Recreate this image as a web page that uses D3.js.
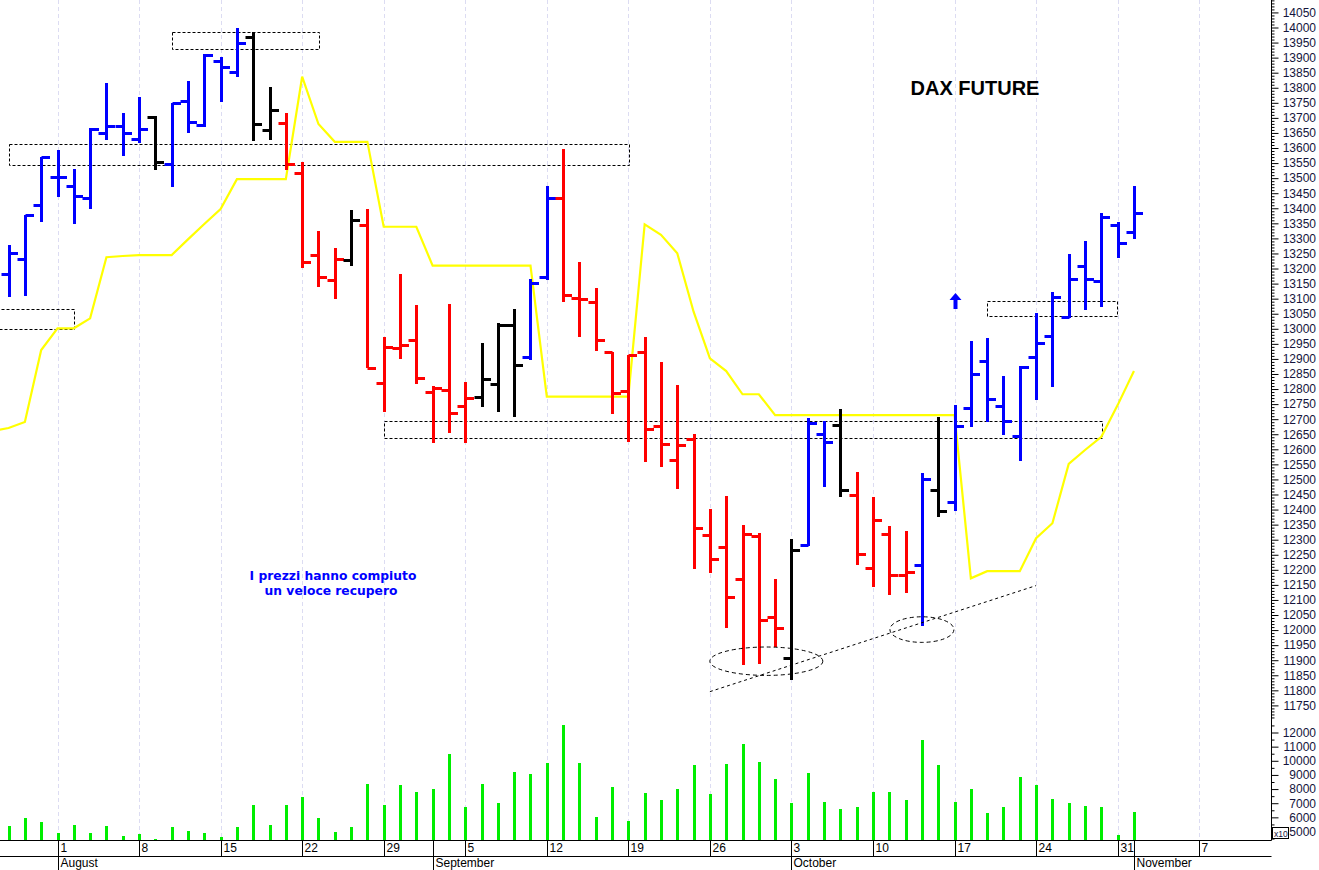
<!DOCTYPE html>
<html><head><meta charset="utf-8">
<script src="https://cdn.jsdelivr.net/npm/d3@7"></script>
<style>
html,body{margin:0;padding:0;background:#fff;}
svg{display:block;}
</style></head><body>
<svg id="chart" width="1319" height="870"></svg>
<script>
// ---------------- DATA ----------------
const dates = ["2022-07-26","2022-07-27","2022-07-28","2022-07-29",
"2022-08-01","2022-08-02","2022-08-03","2022-08-04","2022-08-05",
"2022-08-08","2022-08-09","2022-08-10","2022-08-11","2022-08-12",
"2022-08-15","2022-08-16","2022-08-17","2022-08-18","2022-08-19",
"2022-08-22","2022-08-23","2022-08-24","2022-08-25","2022-08-26",
"2022-08-29","2022-08-30","2022-08-31","2022-09-01","2022-09-02",
"2022-09-05","2022-09-06","2022-09-07","2022-09-08","2022-09-09",
"2022-09-12","2022-09-13","2022-09-14","2022-09-15","2022-09-16",
"2022-09-19","2022-09-20","2022-09-21","2022-09-22","2022-09-23",
"2022-09-26","2022-09-27","2022-09-28","2022-09-29","2022-09-30",
"2022-10-03","2022-10-04","2022-10-05","2022-10-06","2022-10-07",
"2022-10-10","2022-10-11","2022-10-12","2022-10-13","2022-10-14",
"2022-10-17","2022-10-18","2022-10-19","2022-10-20","2022-10-21",
"2022-10-24","2022-10-25","2022-10-26","2022-10-27","2022-10-28",
"2022-10-31","2022-11-01"];

const openP = [null,13179,13229,13409,
13501,13472,13431,13647,13671, 13627,13702,13545,13755,13675,
13888,13852,13966,13658,13682, 13516,13243,13160,13227,13343,
12817,12934,12961,12788,12795, 12742,12773,12815,13011,12906,
13171,13431,13100,13088,12920, 12792,12922,12676,12563,12632,
12314,12273,12168,12311,12043, 11905,12281,12649,12679,12446,
12203,12317,12181,12214,12463, 12424,12734,12891,12742,12644,
12904,12975,13036,13207,13157, 13343,13321];
const highP = [null,13276,13376,13570,
13592,13528,13666,13815,13714, 13767,13705,13749,13822,13909,
13899,13996,13984,13802,13714, 13553,13323,13265,13393,13396,
12970,13180,13077,12808,13081, 12821,12952,13017,13064,13163,
13472,13595,13221,13135,12922, 12911,12970,12889,12812,12648,
12399,12444,12347,12322,12167, 12300,12701,12693,12731,12524,
12439,12344,12328,12521,12707, 12745,12959,12969,12843,12875,
13050,13121,13246,13290,13384, 13354,13472];
const lowP = [null,13105,13107,13354,
13435,13346,13396,13625,13572, 13614,13525,13470,13647,13669,
13750,13833,13623,13625,13525, 13199,13138,13096,13208,12867,
12723,12897,12815,12618,12653, 12618,12740,12723,12707,12895,
13160,13088,12970,12926,12716, 12624,12555,12539,12466,12200,
12187,12004,11882,11886,11943, 11833,12278,12472,12439,12214,
12140,12115,12120,12013,12375, 12394,12673,12690,12646,12560,
12762,12804,13033,13061,13072, 13232,13296];
const closeP = [null,13249,13376,13570,
13501,13439,13661,13672,13647, 13661,13551,13749,13686,13907,
13868,13946,13678,13725,13545, 13221,13169,13230,13359,12867,
12939,12945,12834,12801,12718, 12768,12831,13011,12878,13149,
13431,13110,13096,12961,12784, 12911,12665,12615,12613,12336,
12233,12109,12317,12032,12006, 12264,12685,12622,12463,12251,
12364,12181,12192,12500,12394, 12676,12848,12764,12692,12873,
12950,13105,13164,13164,13368, 13284,13382];
// bar colour signal: u = up (blue), d = down (red), n = neutral (black)
const signal = [null,"u","u","u",
"u","u","u","u","u", "u","n","u","u","u",
"u","u","n","n","d", "d","d","d","n","d",
"d","d","d","d","d", "d","n","n","n","u",
"u","d","d","d","d", "d","d","d","d","d",
"d","d","d","d","d", "n","u","u","n","d",
"d","d","d","u","n", "u","u","u","u","u",
"u","u","u","u","u", "u","u"];
// volume (x10)
const volume = [null,5354,5898,5615,
4880,5425,4836,5354,4625, 4767,4435,5262,5024,4836,
4600,5283,6839,5446,6817, 7383,5898,4953,5283,8302,
6839,8253,7758,7970,10466, 6676,8302,7001,9193,9052,
9830,12495,9786,5969,8090, 5707,7665,7192,7948,9645,
7616,9716,11172,9857,8655, 7001,9122,7072,6577,6676,
7758,7737,7213,11434,9645, 7050,7948,6252,6721,8797,
8231,7262,6959,6746,6676, 4696,6322];
// yellow indicator line
const indicator = [12659,12669,12689,12928,
13000,13000,13033,13236,13240, 13243,13243,13243,13295,13346,
13396,13495,13495,13495,13495, 13835,13678,13619,13619,13619,
13337,13337,13337,13208,13208, 13208,13208,13208,13208,13208,
12773,12773,12773,12773,12773, 12773,13345,13310,13249,13055,
12900,12858,12781,12781,12712, 12712,12712,12712,12712,12712,
12712,12712,12712,12712,12712, 12712,12170,12194,12194,12194,
12303,12353,12550,12596,12640, 12745,12858];

const weekTickDates = ["2022-08-01","2022-08-08","2022-08-15","2022-08-22","2022-08-29",
"2022-09-05","2022-09-12","2022-09-19","2022-09-26","2022-10-03","2022-10-10",
"2022-10-17","2022-10-24","2022-10-31","2022-11-07"];
const monthStartDates = ["2022-08-01","2022-09-01","2022-10-03","2022-11-01"];
const monthLabels = ["August","September","October","November"];

const priceLabels = d3.range(11750, 14051, 50);
const volumeLabels = d3.range(5000, 12001, 1000);

// annotation zones (dates / prices)
const zoneFrom = ["2022-08-10","2022-07-27","2022-07-25","2022-08-29","2022-10-19"];
const zoneTo   = ["2022-08-23","2022-09-19","2022-08-02","2022-10-28","2022-10-31"];
const zoneTop  = [13982,13611,13063,12693,13091];
const zoneBot  = [13926,13542,12997,12638,13041];

// ---------------- HELPERS ----------------
const t0 = new Date(dates[0] + "T00:00:00Z");
function tradingIndex(ds){
  const t = new Date(ds + "T00:00:00Z");
  let n = 0, cur = new Date(t0);
  const sign = t >= t0 ? 1 : -1;
  while (cur.getTime() !== t.getTime()){
    cur.setUTCDate(cur.getUTCDate() + sign);
    const wd = cur.getUTCDay();
    if (wd !== 0 && wd !== 6) n += sign;
  }
  return n;
}

const plotRight = 1271, volBase = 840;
const svg = d3.select("#chart");

const x = d3.scaleLinear().domain([4, 74]).range([57.5, 57.5 + 70*16.31]);
const y = d3.scaleLinear().domain([11750, 14000]).range([704.9, 27]);
const yv = d3.scaleLinear().domain([5000, 12000]).range([831, 732]);

const px = v => Math.round(v) + 0.5;

svg.append("defs").append("clipPath").attr("id","plotclip")
  .append("rect").attr("x",0).attr("y",0).attr("width",plotRight).attr("height",volBase);

const plot = svg.append("g").attr("clip-path","url(#plotclip)");

// vertical gridlines
const weekIdx = weekTickDates.map(tradingIndex);
plot.append("g").selectAll("line").data(weekIdx).join("line")
  .attr("x1", d => px(x(d))).attr("x2", d => px(x(d)))
  .attr("y1", 0).attr("y2", volBase)
  .attr("stroke", "#dcdcf2").attr("stroke-width", 1).attr("stroke-dasharray", "4,3");

// zones
plot.append("g").selectAll("rect").data(zoneTop).join("rect")
  .attr("x", (d,i) => px(x(tradingIndex(zoneFrom[i])) ) )
  .attr("y", d => px(y(d)))
  .attr("width", (d,i) => Math.round(x(tradingIndex(zoneTo[i])) - x(tradingIndex(zoneFrom[i]))))
  .attr("height", (d,i) => Math.round(y(zoneBot[i]) - y(d)))
  .attr("fill", "none").attr("stroke", "#000").attr("stroke-width", 1)
  .attr("stroke-dasharray", "3,2");

// yellow indicator
const lineGen = d3.line().x((d,i) => x(i)).y(d => y(d));
plot.append("path").datum(indicator).attr("d", lineGen)
  .attr("fill","none").attr("stroke","#ffff00").attr("stroke-width",2.2);

// bars
const colorOf = {u:"#0000ff", d:"#ff0000", n:"#000000"};
const barsG = plot.append("g");
dates.forEach((ds, i) => {
  if (highP[i] == null) return;
  const cx = px(x(i)), c = colorOf[signal[i]];
  const g = barsG.append("g").attr("stroke", c).attr("stroke-width", 3);
  g.append("line").attr("x1",cx).attr("x2",cx).attr("y1",Math.round(y(highP[i]))).attr("y2",Math.round(y(lowP[i])));
  g.append("line").attr("x1",cx-8).attr("x2",cx).attr("y1",px(y(openP[i]))).attr("y2",px(y(openP[i])));
  g.append("line").attr("x1",cx).attr("x2",cx+8.5).attr("y1",px(y(closeP[i]))).attr("y2",px(y(closeP[i])));
});

// volume
plot.append("g").selectAll("line").data(volume.map((v,i)=>[i,v]).filter(d=>d[1]!=null)).join("line")
  .attr("x1", d => px(x(d[0]))).attr("x2", d => px(x(d[0])))
  .attr("y1", d => Math.round(yv(d[1]))).attr("y2", volBase)
  .attr("stroke", "#00ee00").attr("stroke-width", 3);

// trendline, ellipses
const iTrendA = tradingIndex("2022-09-26"), iTrendB = tradingIndex("2022-10-24");
plot.append("line")
  .attr("x1", x(iTrendA)).attr("y1", y(11794)).attr("x2", x(iTrendB)).attr("y2", y(12146))
  .attr("stroke","#000").attr("stroke-width",1).attr("stroke-dasharray","3,3");
const ellC = [["2022-09-29", 11895, 56.5, 14.2], ["2022-10-13", 12000, 32, 12.8]];
plot.append("g").selectAll("ellipse").data(ellC).join("ellipse")
  .attr("cx", d => x(tradingIndex(d[0])) + 7.5 * (d[2] > 40 ? 1 : 0))
  .attr("cy", d => y(d[1]))
  .attr("rx", d => d[2]).attr("ry", d => d[3])
  .attr("fill","none").attr("stroke","#000").attr("stroke-width",1).attr("stroke-dasharray","4,3");

// blue arrow
const ax = px(x(tradingIndex("2022-10-17"))), ayTop = y(13117), ayBot = y(13064);
plot.append("path")
  .attr("d", `M${ax},${ayTop} L${ax+6},${ayTop+7} L${ax+2},${ayTop+7} L${ax+2},${ayBot} L${ax-2},${ayBot} L${ax-2},${ayTop+7} L${ax-6},${ayTop+7} Z`)
  .attr("fill","#0000ff");

// texts
svg.append("text").attr("x", 975).attr("y", 95).attr("text-anchor","middle")
  .attr("font-family","Liberation Sans, Arial, sans-serif").attr("font-weight","bold")
  .attr("font-size", 20).attr("fill","#000").text("DAX FUTURE");
const note = svg.append("text").attr("text-anchor","middle")
  .attr("font-family","DejaVu Sans, Verdana, sans-serif").attr("font-weight","bold")
  .attr("font-size", 12.3).attr("fill","#0000ff");
note.append("tspan").attr("x",333).attr("y",580).text("I prezzi hanno compiuto");
note.append("tspan").attr("x",331).attr("y",595).text("un veloce recupero");

// ---------------- AXES ----------------
const axisFont = "Liberation Sans, Arial, sans-serif";
const labelRight = 1316;
svg.append("line").attr("x1",plotRight+0.5).attr("x2",plotRight+0.5).attr("y1",0).attr("y2",volBase+0.5)
  .attr("stroke","#000");
const minorP = d3.range(11710, 14100, 10).filter(v => !priceLabels.includes(v));
const gMinor = svg.append("g").attr("transform",`translate(${plotRight+0.5},0.5)`)
  .call(d3.axisRight(y).tickValues(minorP).tickSize(3).tickFormat(""));
const gMajor = svg.append("g").attr("transform",`translate(${plotRight+0.5},0.5)`)
  .call(d3.axisRight(y).tickValues(priceLabels).tickSize(7).tickPadding(5).tickFormat(d3.format("d")));
const volMinor = d3.range(4500, 13001, 500).filter(v => !volumeLabels.includes(v) && yv(v) >= 720);
const gvMinor = svg.append("g").attr("transform",`translate(${plotRight+0.5},0.5)`)
  .call(d3.axisRight(yv).tickValues(volMinor).tickSize(3).tickFormat(""));
const gvMajor = svg.append("g").attr("transform",`translate(${plotRight+0.5},0.5)`)
  .call(d3.axisRight(yv).tickValues(volumeLabels).tickSize(7).tickPadding(5).tickFormat(d3.format("d")));
[gMinor,gMajor,gvMinor,gvMajor].forEach(g => {
  g.select(".domain").remove();
  g.selectAll("line").attr("stroke","#000");
  g.selectAll("text").attr("font-family",axisFont).attr("font-size",12).attr("fill","#14143c")
    .attr("text-anchor","end").attr("x", labelRight - plotRight - 0.5);
});
// x10 box
svg.append("rect").attr("x",plotRight+1.5).attr("y",827.5).attr("width",16).attr("height",11)
  .attr("fill","#fff").attr("stroke","#000");
svg.append("text").attr("x",plotRight+3).attr("y",836.5).attr("font-family",axisFont)
  .attr("font-size",8.5).attr("fill","#14143c").text("x10");

// bottom axes
svg.append("line").attr("x1",0).attr("x2",plotRight+0.5).attr("y1",volBase+0.5).attr("y2",volBase+0.5).attr("stroke","#000");
svg.append("line").attr("x1",0).attr("x2",plotRight+0.5).attr("y1",856.5).attr("y2",856.5).attr("stroke","#000");
const dayFmt = ds => String(+ds.slice(8,10));
const gDays = svg.append("g").attr("transform",`translate(0,${volBase+0.5})`)
  .call(d3.axisBottom(x).tickValues(weekIdx).tickSize(16).tickFormat((d,i) => dayFmt(weekTickDates[i])));
gDays.select(".domain").remove();
gDays.selectAll(".tick").attr("transform", d => `translate(${px(x(d))},0)`);
gDays.selectAll("line").attr("stroke","#000");
gDays.selectAll("text").attr("text-anchor","start").attr("x",2).attr("y",3).attr("dy","0.71em")
  .attr("font-family",axisFont).attr("font-size",12).attr("fill","#000");

const monthIdx = monthStartDates.map(tradingIndex);
const gMonths = svg.append("g").attr("transform",`translate(0,${volBase+0.5})`)
  .call(d3.axisBottom(x).tickValues(monthIdx).tickSize(30).tickFormat((d,i) => monthLabels[i]));
gMonths.select(".domain").remove();
gMonths.selectAll(".tick").attr("transform", d => `translate(${px(x(d))},0)`);
gMonths.selectAll("line").attr("stroke","#000");
gMonths.selectAll("text").attr("text-anchor","start").attr("x",2).attr("y",18).attr("dy","0.71em")
  .attr("font-family",axisFont).attr("font-size",12).attr("fill","#000");
</script>
</body></html>
